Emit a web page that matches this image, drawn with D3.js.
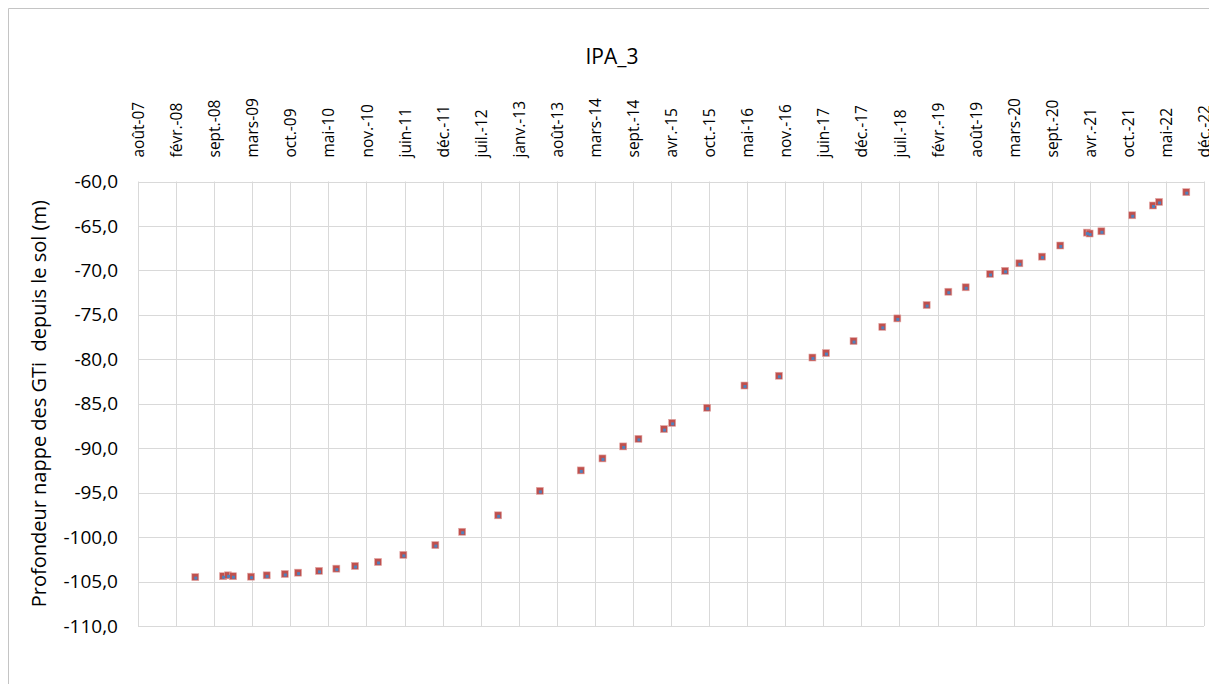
<!DOCTYPE html>
<html>
<head>
<meta charset="utf-8">
<script src="https://cdn.jsdelivr.net/npm/d3@7"></script>
<style>
  html, body { margin: 0; padding: 0; background: #fff; }
  svg { display: block; font-family: "Open Sans", sans-serif; }
</style>
</head>
<body>
<svg id="chart" width="1209" height="684"></svg>
<script>
"use strict";

const dates = [
  "2008-06-01", "2008-10-25", "2008-11-20", "2008-12-16", "2009-03-21", "2009-06-11",
  "2009-09-14", "2009-11-23", "2010-03-13", "2010-06-12", "2010-09-18", "2011-01-17",
  "2011-05-30", "2011-11-14", "2012-04-03", "2012-10-09", "2013-05-16", "2013-12-17",
  "2014-04-10", "2014-07-28", "2014-10-16", "2015-02-27", "2015-04-11", "2015-10-12",
  "2016-04-25", "2016-10-23", "2017-04-17", "2017-06-27", "2017-11-19", "2018-04-19",
  "2018-07-07", "2018-12-08", "2019-04-01", "2019-07-01", "2019-11-06", "2020-01-24",
  "2020-04-08", "2020-08-05", "2020-11-09", "2021-03-29", "2021-04-12", "2021-06-13",
  "2021-11-22", "2022-03-11", "2022-04-12", "2022-09-02"
];
const depths = [
  -104.5, -104.4, -104.3, -104.4, -104.45, -104.3,
  -104.15, -104.0, -103.8, -103.55, -103.25, -102.8,
  -102.0, -100.9, -99.4, -97.55, -94.8, -92.5,
  -91.15, -89.8, -88.95, -87.85, -87.15, -85.45,
  -82.95, -81.85, -79.8, -79.3, -77.95, -76.35,
  -75.4, -73.9, -72.4, -71.9, -70.4, -70.05,
  -69.2, -68.45, -67.2, -65.75, -65.85, -65.6,
  -63.8, -62.7, -62.3, -61.2
];

const xTickLabels = [
  "août-07", "févr.-08", "sept.-08", "mars-09", "oct.-09", "mai-10", "nov.-10",
  "juin-11", "déc.-11", "juil.-12", "janv.-13", "août-13", "mars-14", "sept.-14",
  "avr.-15", "oct.-15", "mai-16", "nov.-16", "juin-17", "déc.-17", "juil.-18",
  "févr.-19", "août-19", "mars-20", "sept.-20", "avr.-21", "oct.-21", "mai-22", "déc.-22"
];
const yTicks = [-60, -65, -70, -75, -80, -85, -90, -95, -100, -105, -110];

const axisStart = "2007-08-05";
const stepDays = 200;

const plotLeft = 138, plotRight = 1204, plotTop = 181.5, plotBottom = 626;
const gridColor = "#d9d9d9";

const parse = d3.utcParse("%Y-%m-%d");
const fr = d3.formatLocale({ decimal: ",", thousands: " ", grouping: [3], currency: ["", " €"], minus: "-" });
const fmtY = fr.format(".1f");

const t0 = parse(axisStart);
const xTickValues = xTickLabels.map((_, i) => d3.utcDay.offset(t0, i * stepDays));

const xScale = d3.scaleUtc()
  .domain([t0, xTickValues[xTickValues.length - 1]])
  .range([plotLeft, plotRight]);
const yScale = d3.scaleLinear()
  .domain([-60, -110])
  .range([plotTop, plotBottom]);

const svg = d3.select("#chart");

// chart frame
svg.append("path")
  .attr("d", "M8.5,684 V8.5 H1209")
  .attr("fill", "none")
  .attr("stroke", "#c4c4c4");

// gridlines
svg.append("g").selectAll("line")
  .data(xTickValues)
  .join("line")
    .attr("x1", d => Math.round(xScale(d)) + 0.5)
    .attr("x2", d => Math.round(xScale(d)) + 0.5)
    .attr("y1", plotTop)
    .attr("y2", plotBottom)
    .attr("stroke", gridColor);
svg.append("g").selectAll("line")
  .data(yTicks)
  .join("line")
    .attr("x1", plotLeft)
    .attr("x2", plotRight)
    .attr("y1", d => Math.round(yScale(d)) + 0.5)
    .attr("y2", d => Math.round(yScale(d)) + 0.5)
    .attr("stroke", gridColor);

// x axis (labels on top, rotated, reading upward)
const xAxis = svg.append("g")
  .attr("transform", `translate(0,${plotTop})`)
  .call(d3.axisTop(xScale)
    .tickValues(xTickValues)
    .tickSize(0)
    .tickFormat((d, i) => xTickLabels[i]));
xAxis.select(".domain").remove();
xAxis.selectAll("text")
  .attr("transform", "rotate(-90)")
  .attr("x", 24)
  .attr("y", 0)
  .attr("dy", "0.36em")
  .attr("text-anchor", "start")
  .attr("fill", "#000")
  .style("font-size", "15.5px")
  .style("font-family", "Open Sans");

// y axis
const yAxis = svg.append("g")
  .attr("transform", `translate(${plotLeft},0)`)
  .call(d3.axisLeft(yScale)
    .tickValues(yTicks)
    .tickSize(0)
    .tickPadding(20)
    .tickFormat(fmtY));
yAxis.select(".domain").remove();
yAxis.selectAll("text")
  .attr("fill", "#000")
  .style("font-size", "19px")
  .style("font-family", "Open Sans");

// title
svg.append("text")
  .attr("x", 612)
  .attr("y", 64)
  .attr("text-anchor", "middle")
  .style("font-size", "21px")
  .text("IPA_3");

// y axis title
svg.append("text")
  .attr("transform", `translate(46,${(plotTop + plotBottom) / 2}) rotate(-90)`)
  .attr("text-anchor", "middle")
  .style("font-size", "20px")
  .style("white-space", "pre")
  .text("Profondeur nappe des GTi  depuis le sol (m)");

// markers: red square with small blue square on top
const points = dates.map((d, i) => ({ date: parse(d), value: depths[i] }));

svg.append("g").selectAll("rect")
  .data(points)
  .join("rect")
    .attr("x", d => xScale(d.date) - 3.5)
    .attr("y", d => yScale(d.value) - 3.5)
    .attr("width", 7)
    .attr("height", 7)
    .attr("fill", "#c0504d")
    .attr("stroke", "#e3a9a7")
    .attr("stroke-width", 0.6);

svg.append("g").selectAll("rect")
  .data(points)
  .join("rect")
    .attr("x", d => xScale(d.date) - 1)
    .attr("y", d => yScale(d.value) - 0.5)
    .attr("width", 3)
    .attr("height", 3)
    .attr("fill", "#4f81bd");
</script>
</body>
</html>
